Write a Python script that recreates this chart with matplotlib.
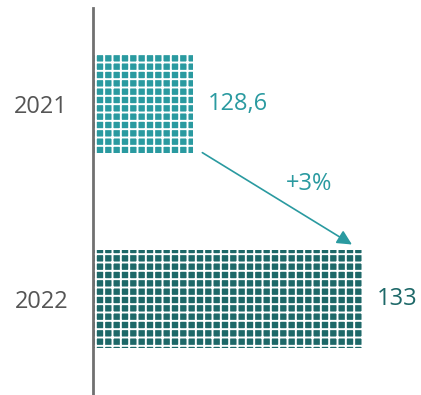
import numpy as np
import matplotlib
matplotlib.use('Agg')
from matplotlib import pyplot as plt

years = ['2021', '2022']
values = [128.6, 133]
value_labels = ['128,6', '133']
change_label = '+3%'
bar_colors = ['#2a9aa0', '#1d6868']

plt.rcParams['font.family'] = ['Open Sans', 'DejaVu Sans']
plt.rcParams['hatch.linewidth'] = 1.4

fig = plt.figure(figsize=(4.21, 3.95), dpi=100)
ax = fig.add_axes([93/421, 0, 1 - 93/421, 387/395])

y = np.arange(len(years))
for yi, v, c in zip(y, values, bar_colors):
    ax.barh(yi, v - 126, left=126, height=0.5, color=c,
            edgecolor='white', linewidth=0, hatch='++')

for yi, v, lab, c in zip(y, values, value_labels, bar_colors):
    ax.text(v + 0.4, yi, lab, va='center', ha='left', fontsize=17, color=c)

# arrow from first bar down to the second
ax.annotate('', xy=(values[1] - 0.25, y[1] - 0.28), xytext=(values[0] + 0.25, y[0] + 0.25),
            arrowprops=dict(arrowstyle='-|>', color=bar_colors[0], lw=1.2,
                            mutation_scale=22, shrinkA=0, shrinkB=0))
ax.text(131.63, 0.41, change_label, fontsize=17, color=bar_colors[0], ha='center', va='center')

ax.set_xlim(126, 134.55)
ax.set_ylim(1.49, -0.49)
ax.set_yticks(y)
ax.set_yticklabels(years, fontsize=17, color='#555555')
ax.tick_params(axis='y', length=0, pad=18)
ax.set_xticks([])
for s in ['top', 'right', 'bottom']:
    ax.spines[s].set_visible(False)
ax.spines['left'].set_color('#707070')
ax.spines['left'].set_linewidth(2)

fig.savefig('out.png', dpi=100)
